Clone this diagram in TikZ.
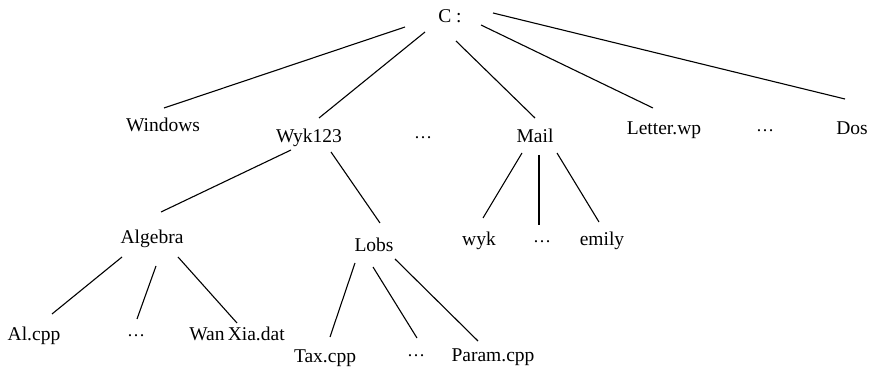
\documentclass[tikz,border=0pt]{standalone}
\usepackage{fontspec}
\setmainfont{Liberation Serif}
\begin{document}
\begin{tikzpicture}[x=1pt,y=-1pt,
  lbl/.style={anchor=base,inner sep=0pt,font=\fontsize{19.5}{23}\selectfont},
  edge/.style={line width=1.1pt}]
\newcommand{\mydots}{\raisebox{1.5pt}{\fontsize{18}{20}\selectfont …}}
\useasboundingbox (0,0) rectangle (871,371);
% nodes
\node[lbl] (c) at (450,23) {C :};
\node[lbl] (win) at (163,132) {Windows};
\node[lbl] (wyk) at (309,143) {Wyk123};
\node[lbl] (d1) at (423,140) {\mydots};
\node[lbl] (mail) at (535,143) {Mail};
\node[lbl] (let) at (664,135) {Letter.wp};
\node[lbl] (d2) at (765,133) {\mydots};
\node[lbl] (dos) at (852,135) {Dos};
\node[lbl] (alg) at (152,244) {Algebra};
\node[lbl] (lobs) at (374,252) {Lobs};
\node[lbl] (wyks) at (479,246) {wyk};
\node[lbl] (d3) at (542,244) {\mydots};
\node[lbl] (emily) at (602,246) {emily};
\node[lbl] (al) at (34,341) {Al.cpp};
\node[lbl] (d4) at (136,338) {\mydots};
\node[lbl] (wan) at (237,341) {Wan\,Xia.dat};
\node[lbl] (tax) at (325,363) {Tax.cpp};
\node[lbl] (d5) at (416,358) {\mydots};
\node[lbl] (param) at (493,362) {Param.cpp};
% connectors
\draw[edge] ([shift={(-45,4)}]c.base) -- ([shift={(1,-24)}]win.base);
\draw[edge] ([shift={(-25,9)}]c.base) -- ([shift={(10,-25)}]wyk.base);
\draw[edge] ([shift={(6,18)}]c.base) -- ([shift={(0,-25)}]mail.base);
\draw[edge] ([shift={(31,2)}]c.base) -- ([shift={(-11,-27)}]let.base);
\draw[edge] ([shift={(43,-10)}]c.base) -- ([shift={(-7,-36)}]dos.base);
\draw[edge] ([shift={(-18,7)}]wyk.base) -- ([shift={(9,-32)}]alg.base);
\draw[edge] ([shift={(22,9)}]wyk.base) -- ([shift={(6,-29)}]lobs.base);
\draw[edge] ([shift={(-13,10)}]mail.base) -- ([shift={(4,-28)}]wyks.base);
\draw[edge] ([shift={(4,12)}]mail.base) -- ([shift={(-3,-19)}]d3.base);
\draw[edge] ([shift={(22,10)}]mail.base) -- ([shift={(-3,-24)}]emily.base);
\draw[edge] ([shift={(-30,13)}]alg.base) -- ([shift={(18,-27)}]al.base);
\draw[edge] ([shift={(4,22)}]alg.base) -- ([shift={(1,-19)}]d4.base);
\draw[edge] ([shift={(26,13)}]alg.base) -- ([shift={(0,-18)}]wan.base);
\draw[edge] ([shift={(-19,11)}]lobs.base) -- ([shift={(5,-26)}]tax.base);
\draw[edge] ([shift={(-1,15)}]lobs.base) -- ([shift={(1,-20)}]d5.base);
\draw[edge] ([shift={(21,7)}]lobs.base) -- ([shift={(-15,-21)}]param.base);
\end{tikzpicture}
\end{document}
